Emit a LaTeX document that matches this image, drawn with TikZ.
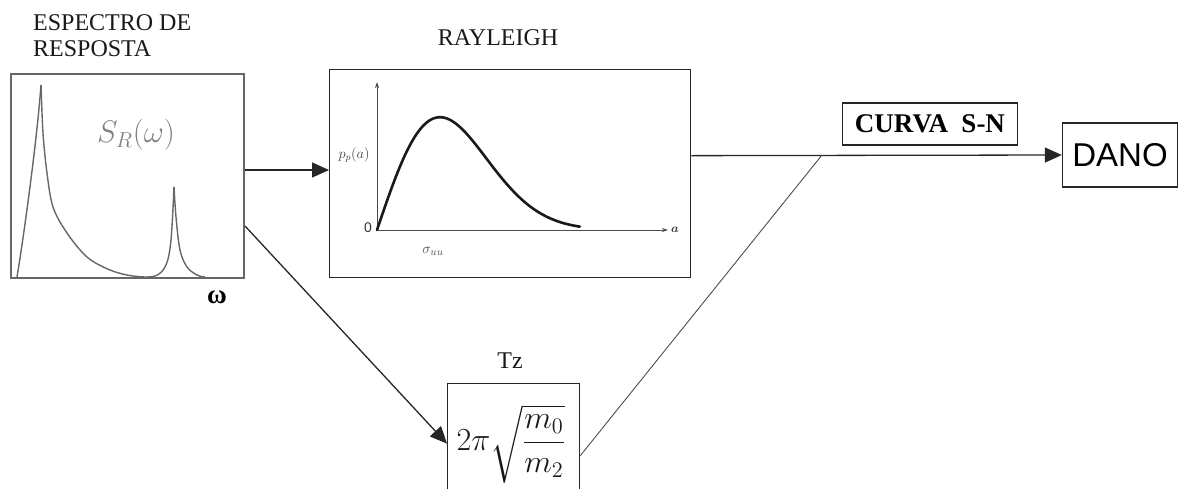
\documentclass[tikz,border=0pt]{standalone}
\usepackage{graphicx}
\usepackage{amsmath}
\usepackage{fontspec}
\setmainfont{Liberation Serif}
\newfontfamily\arialfont{Liberation Sans}
\usetikzlibrary{arrows.meta,calc}
\begin{document}
\begin{tikzpicture}[x=1pt,y=-1pt,
  lbl/.style={font=\fontsize{24}{26}\selectfont, text=black!90, inner sep=0pt},
  box/.style={draw=black!85, line width=1.3pt, inner sep=0pt},
  conn/.style={line width=1.3pt, draw=black!85},
  arr/.style={conn, -{Triangle[length=17pt,width=15pt]}},
  thinconn/.style={line width=0.9pt, draw=black!70},
  axis/.style={line width=0.8pt, draw=black!70, -{Stealth[length=6pt,width=4pt]}},
  spcurve/.style={line width=1.4pt, draw=black!60, line join=round},
]
\useasboundingbox (0,0) rectangle (1198,488);

% ---- spectrum ----
\node[lbl, align=left, anchor=north west] (sptitle) at (33,14) {ESPECTRO DE\\RESPOSTA};
\node[box, draw=black!60, line width=2pt, minimum width=233pt, minimum height=204pt, anchor=north west] (spec) at (10,73) {};
\draw[spcurve] (17,277) .. controls (24,235) and (37,140) .. (41,85);
\draw[spcurve] plot[smooth, tension=0.55] coordinates {(41,85) (43,133) (47,173) (53,207) (67,233) (87,257) (110,270) (133,276) (155,276) (166,265) (171,240) (174,187)};
\draw[spcurve] plot[smooth, tension=0.55] coordinates {(174,187) (176,217) (180,250) (187,267) (197,275) (205,277)};
\node[text=black!50, inner sep=0pt] (sr) at (136,135) {\scalebox{1.5}{\fontsize{20}{22}\selectfont$S_R(\omega)$}};
\node[inner sep=0pt] (om) at (217,297) {\fontsize{27}{27}\selectfont\bfseries ω};

% ---- Rayleigh ----
\node[lbl] (raytitle) at (498,38) {RAYLEIGH};
\node[box, minimum width=361pt, minimum height=208pt, anchor=north west] (ray) at (329,69) {};
\draw[axis] (377,230) -- (377,82);
\draw[axis] (377,230) -- (668,230);
\draw[line width=2.6pt, black!90, line cap=round] plot[domain=0:3.22, samples=70, smooth] ({377+63*\x},{230-186*\x*exp(-\x*\x/2)});
\node[inner sep=0pt, text=black!75] (pp) at (354,155) {\fontsize{14}{14}\selectfont$p_p(a)$};
\node[inner sep=0pt, text=black!80] (zero) at (368,228) {\arialfont\fontsize{14}{14}\selectfont 0};
\node[inner sep=0pt, text=black!70] (sig) at (433,251) {\fontsize{15}{15}\selectfont$\sigma_{uu}$};
\node[inner sep=0pt, text=black!80] (aa) at (675,230) {\fontsize{13}{13}\selectfont$\boldsymbol{a}$};

% ---- Tz ----
\node[lbl] (tztitle) at (510,361) {Tz};
\node[box, minimum width=132pt, minimum height=120pt, anchor=north west] (tz) at (447,383) {};
\node[inner sep=0pt, text=black!90] (tzf) at (511,444) {\scalebox{1.55}{\fontsize{20}{22}\selectfont$2\pi\sqrt{\dfrac{m_0}{m_2}}$}};

% ---- right part ----
\node[box, minimum width=175pt, minimum height=42pt, font=\fontsize{27}{29}\selectfont\bfseries] (sn) at (930,124) {CURVA\ \ S-N};
\node[box, minimum width=115pt, minimum height=64pt, font=\arialfont\fontsize{33}{35}\selectfont] (dano) at (1120,155) {DANO};
\coordinate (j) at (822,155);

% ---- connectors ----
\draw[arr] ([yshift=6pt]spec.east) -- ([yshift=6pt]spec.east -| ray.west);
\draw[arr] ([yshift=-50pt]spec.east) -- (tz.west);
\draw[arr] ([yshift=18pt]ray.east) -- (dano.west);
\draw[thinconn] ([yshift=-12pt]tz.east) -- (j);
\end{tikzpicture}
\end{document}
